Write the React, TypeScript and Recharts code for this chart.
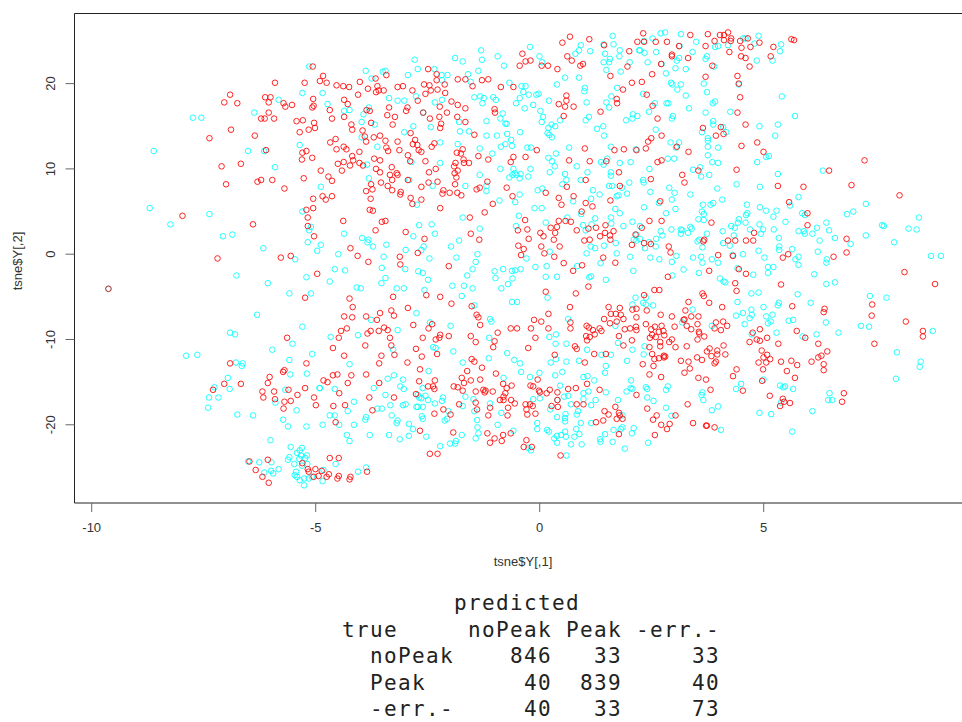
import { ScatterChart, Scatter, XAxis, YAxis, ReferenceLine } from 'recharts';

// values, [tsne$Y[,1], tsne$Y[,2]]
const redTopLeft = [[-5.04,22],[-5.88,20.1],[-5.22,20.1],[-6.88,18.7],[-7.01,17.8],[-6.72,17.7],[-6.1,18.4],[-5.98,18.4],[-6.02,17.8],[-5.69,17.7],[-5.65,17.3],[-5.5,17.5],[-6.02,16.6],[-6.19,15.9],[-6.11,15.9],[-5.9,15.9],[-5.4,15.6],[-5.26,15.7],[-5.01,15.4],[-4.99,14.8],[-5.13,14.6],[-5.33,14.3],[-6.86,14.6],[-6.33,13.9],[-7.34,13.6],[-5.03,18.2],[-5.05,17.2],[-5.02,17.4],[-6.08,12.2],[-5.18,12.1],[-5.27,11.9],[-5.28,11.1],[-5.05,11.3],[-7.07,10.3],[-6.64,10.6],[-6.27,8.5],[-6.19,8.7],[-5.94,8.7],[-6.97,8.2],[-5.24,8.9],[-5.67,7.7],[-5.03,6.5],[-5.18,5.2],[-5.03,5.4],[-5.15,4.3],[-5.15,3.3],[-7.94,4.5],[-6.37,3.5],[-5.01,2.1],[-5.53,-0.2],[-5.75,-0.4],[-7.16,-0.5]];
const cyanTopLeft = [[-5.12,22],[-5.27,18.9],[-5.8,18.1],[-6.34,16.6],[-7.71,16],[-7.52,16],[-5.33,12.8],[-6.48,12.1],[-6.12,12.1],[-8.58,12.1],[-5.88,10.2],[-8.67,5.4],[-7.34,4.7],[-8.21,3.5],[-7.04,2.1],[-6.83,2.3],[-5.27,5],[-5.08,3.2],[-5.12,2.8],[-5.15,1.4],[-6.14,0.7],[-4.94,0.4],[-5.43,-0.6]];
const redBottomLeft = [[-9.59,-4.06],[-4.94,-2.3],[-5.21,-5.1],[-5.61,-9.8],[-5.18,-12.8],[-6.88,-12.8],[-5.67,-13.6],[-5.7,-13.8],[-6,-14.4],[-6.04,-15.1],[-7.01,-15.2],[-6.64,-15.2],[-7.26,-15.9],[-6.16,-16.1],[-5.9,-16.1],[-5.58,-15.9],[-5.21,-15.7],[-6.14,-16.8],[-5.88,-17],[-5.38,-16.5],[-5.01,-16.8],[-5.67,-17.3],[-5.53,-17.2],[-4.97,-17.7],[-5.69,-18.1],[-6.45,-24.3],[-6.04,-24.1],[-6.31,-25.3],[-6.16,-26.1],[-6.02,-26.8],[-5.27,-24.5],[-5.15,-25.2],[-4.98,-25.2],[-4.91,-26],[-5.13,-25.5],[-5.02,-26.1]];
const cyanBottomLeft = [[-9.59,-4.06],[-6.74,-2.5],[-6.04,-3.4],[-5.18,-2.7],[-5.56,-4.6],[-5.08,-4.6],[-6.28,-7.1],[-5.27,-8.5],[-6.88,-9.2],[-6.77,-9.4],[-5.49,-10.5],[-5.94,-11.2],[-5.05,-11.7],[-7.86,-11.9],[-7.61,-11.8],[-5.56,-12.4],[-6.75,-12.7],[-6.6,-12.8],[-6.62,-13.1],[-5.54,-14.1],[-5.17,-14],[-6.93,-14.5],[-7.23,-15.6],[-6.89,-15.8],[-5.65,-15.9],[-4.89,-15.7],[-7.35,-16.8],[-7.14,-16.8],[-5.87,-17.4],[-5.4,-18.3],[-7.37,-18],[-6.72,-18.8],[-6.37,-18.9],[-5.7,-19.4],[-5.59,-20.2],[-5.18,-20.2],[-5.98,-21.8],[-5.53,-22.6],[-5.28,-22.7],[-5.33,-23],[-5.39,-23.3],[-5.3,-23.6],[-5.17,-23.6],[-5.56,-23.8],[-5.59,-24.1],[-5.34,-24],[-5.21,-23.9],[-6.48,-24.3],[-6.23,-24.4],[-5.96,-24.4],[-5.45,-24.6],[-5.16,-24.6],[-5.28,-24.8],[-5.8,-25.2],[-5.97,-25.4],[-6.12,-25.6],[-5.92,-25.7],[-5.41,-25.5],[-5.44,-25.9],[-5.39,-26.1],[-5.33,-26.5],[-5.23,-26.3],[-5.13,-26.3],[-5.06,-26.1],[-5.23,-27.1]];
const redTopMiddle = [[-4.81,20.9],[-4.88,20.3],[-4.73,20.1],[-4.51,19.8],[-4.36,19.7],[-4.23,19.6],[-3.99,20.2],[-3.64,20.6],[-3.4,21],[-3.81,19.4],[-3.6,19.7],[-3.57,19.2],[-3.46,19.2],[-3.63,19],[-4.03,18.7],[-3.15,19.6],[-3.03,19.7],[-2.82,19.2],[-2.56,19.9],[-2.44,19.8],[-2.41,19.2],[-2.53,18.8],[-2.26,19.3],[-2.1,19.9],[-2.09,18.9],[-2.7,18],[-2.47,21.7],[-2.28,21.1],[-2.28,20.4],[-1.81,20.5],[-1.64,20.5],[-1.48,19.7],[-1.27,20.4],[-1.13,20.5],[-0.85,19.6],[-0.57,19.6],[-0.37,23.5],[-0.43,22.1],[-0.3,22.6],[-0.19,22.7],[0.06,22.1],[0.2,22.1],[0.41,21.7],[0.52,24.8],[0.69,25.5],[1.12,25.2],[0.63,23.2],[0.73,22.7],[0.92,22.1],[0.98,22.3],[1.45,24.5],[1.59,20.9],[2.01,23.8],[1.97,22],[2.19,24.9],[2.07,20.1],[1.87,19.3],[1.73,18.2],[1.74,17.7],[1.37,16.7],[0.61,18.6],[0.61,18],[0.44,17.6],[0.58,17.3],[0.77,17.3],[0.55,16.2],[-0.99,17],[-0.98,16.6],[-1.95,17.9],[-1.81,17.5],[-1.64,17.1],[-2.05,16.6],[-2.21,17.3],[-2.43,15.9],[-2.22,16.1],[-2.18,15.3],[-2.2,14.8],[-1.82,16.1],[-1.64,15.5],[-1.44,14],[-4.34,18.1],[-4.26,17.6],[-4.66,16.9],[-4.61,15.9],[-4.34,16.1],[-3.34,17.2],[-2.93,17.2],[-2.96,16.8],[-3.38,16.3],[-3.21,16.1],[-3.26,15.2],[-2.58,16.6],[-3.84,16.9],[-3.77,16.8],[-4.18,15.2],[-4.16,14.6],[-3.93,14.5],[-3.74,15.4],[-3.88,13.8],[-3.85,13.2],[-3.68,13.7],[-3.54,13.9],[-3.42,13.3],[-3.15,13.2],[-2.86,14.2],[-2.76,13.4],[-2.81,12.9],[-2.71,12.8],[-2.33,13],[-2.39,12.6],[-2.68,12.2],[-2.62,12],[-3.4,12.5],[-3.36,12.1],[-3.11,12.2],[-4.53,13.5],[-4.65,13.1],[-4.35,12.6],[-4.29,12.3],[-4.51,12.3],[-4,12],[-4.16,11.5],[-4.14,11],[-4.35,10.8],[-4.48,10.6],[-4.21,10.4],[-4,10.7],[-3.92,10.4],[-3.67,11.2],[-3.54,11],[-3.63,10],[-3.54,9.6],[-3.28,10.2],[-2.92,11.6],[-2.87,10.9],[-2.53,10.9],[-2.45,9.6],[-2.3,10],[-3.32,9.3],[-3.17,9.5],[-3.15,9.3],[-3.27,8.7],[-3.52,8.4],[-3.37,8],[-3.27,7.5],[-3.74,8.2],[-3.71,7.6],[-3.85,7.4],[-3.75,6.5],[-3.08,7.3],[-3.09,7],[-2.92,8.7],[-2.62,7.9],[-2.46,8.4],[-2.26,8.5],[-2.86,6.6],[-2.62,6.4],[-2.82,5.9],[-2.2,5.4],[-3.77,5.2],[-3.7,5.1],[-4.39,9.8],[-4.69,9.1],[-4.61,8.6],[-4.86,9.8],[-4.82,6.8],[-4.75,6.4],[-4.61,6.8],[-1.7,12.3],[-1.83,11.9],[-1.74,11.8],[-1.68,11.1],[-1.56,10.7],[-1.67,10.7],[-1.86,10.7],[-1.89,10.3],[-1.81,9.8],[-1.88,9.5],[-1.84,9],[-1.87,8.2],[-2.13,7.5],[-2.15,7.1],[-1.99,7.2],[-1.82,7.2],[-1.73,6.9],[-1.35,11.5],[-1.13,11.1],[-1.15,8.5],[-1.39,7.6],[-1.32,7.8],[-0.72,7.8],[-0.57,11.4],[-0.63,10.8],[-0.3,11.4],[-0.05,12.2],[-0.59,6.8],[-1.03,5.9],[-1.21,4.9],[0.15,7.2],[0.67,11],[1.02,12.4],[1.13,10.9],[1.68,12.2],[1.89,12.3],[2.17,12.2],[1.5,10.9],[1.78,9.6],[1.04,8.7],[0.62,7.9],[1.8,8],[0.77,6.8],[0.44,6.6],[0.5,5.8],[1.04,6],[1.19,5.6],[1.59,6.3],[0.95,5],[-4.36,3.9],[-3.5,3.8],[-3.42,3.9],[-3.64,2.8],[-2.97,2.6],[-2.55,1.8],[-1.54,4.3],[-1.52,2.4],[-1.33,1.7],[-4.2,0.7],[-4.04,-0.2],[-3.1,-0.3],[-2.7,0.15],[-0.31,4],[-0.47,2.8],[-0.26,2.9],[0.03,2.5],[0.1,2.1],[-0.23,1.8],[-0.46,1],[-0.34,0.6],[-0.4,-0.1],[0.05,0.9],[0.33,1.7],[0.46,0.9],[0.12,0.1],[0.34,-0.3],[0.26,3.1],[0.4,3.2],[0.36,2.5],[0.44,3.9],[0.59,3.9],[0.71,3.8],[0.84,2.8],[1.1,3],[1.27,3.1],[1.48,3.4],[1.47,2.5],[1.66,2.7],[1.36,2.1],[1.58,2.2],[1.59,1.7],[1.01,1.6],[1.13,1.7],[2.07,1.1],[2.15,2.3],[1.43,-0.4]];
const cyanTopMiddle = [[-2.77,22.8],[-2.7,21.7],[-2.92,21],[-3.86,21.5],[-3.48,21.4],[-3.42,21.5],[-3.73,20.6],[-2.33,21.7],[-2.17,21],[-2.04,21],[-2.16,20.4],[-1.87,23],[-1.7,22.6],[-1.29,23.9],[-1.27,22.8],[-0.92,23.2],[-0.78,22.1],[-1.58,21.1],[-1.35,21.5],[-1.52,20.2],[-0.2,24.3],[0.01,23.2],[0.07,22.5],[-0.66,20.1],[-0.39,19.7],[-0.3,19.7],[-0.35,19],[-0.43,18.3],[-0.51,17.7],[-0.23,18.7],[-0.06,18.7],[-0.01,18.8],[-0.13,17.5],[-0.32,17.1],[-1.44,18.4],[-1.31,18.5],[-1.23,18.3],[-1.26,17.7],[-1.02,18.4],[-0.96,18.1],[-0.81,16.5],[-0.86,15.9],[-0.75,15.3],[-0.72,15.3],[-1.17,15.6],[-3.34,18.3],[-3.15,18],[-3,18],[-2.74,18.5],[-2.32,17.8],[-2.16,18.1],[-2.58,16.6],[-4.82,18.9],[-4.71,17.6],[-4.34,16.8],[-4.22,16.9],[-3.91,16.4],[-3.79,17.2],[-3.66,15.2],[-3.95,15.5],[-3.95,13.7],[-3.6,12.6],[-3,14.3],[-2.8,15],[-2.41,14.9],[-2.2,13.1],[-1.81,12.9],[-1.76,14.4],[-1.78,15.5],[-1.56,14.4],[-1.17,13.9],[-0.94,13.9],[-0.71,14.1],[-0.42,14.3],[-0.62,13.4],[-0.75,12.9],[-0.6,12.7],[-0.85,12.6],[-1.32,12.4],[-1.04,11.8],[-0.26,12.5],[-0.18,12.5],[0.03,16.8],[0.09,16.1],[0.06,15.5],[0.21,14.8],[0.28,15.2],[0.36,15],[0.19,14.2],[0.23,14],[0.29,13.7],[0.47,15.7],[0.22,18],[0.4,19.9],[0.58,20.7],[0.89,20.7],[1.02,19.5],[1.01,19.1],[1.06,17.8],[0.81,23.5],[0.89,23.9],[0.93,24.5],[1.14,23.8],[1.44,24.6],[1.64,25.6],[1.66,24.6],[1.47,23.5],[1.44,22.5],[1.58,22.9],[1.56,22.5],[1.5,21.6],[1.8,23.9],[1.79,23.2],[1.82,21.4],[2.02,22.5],[2.23,23.9],[1.74,19.5],[1.61,18.5],[1.5,17.8],[1.56,17.2],[1.04,15.7],[1.11,16.1],[1.29,14.7],[1.43,15],[1.45,13.9],[1.94,15.7],[2.08,15.9],[2.09,16.4],[2.19,16.2],[0.67,12.5],[0.21,11.3],[0.38,11.8],[0.29,10.9],[0.35,10.3],[0.24,9.6],[-0.19,10],[-0.86,10],[-0.57,10],[-0.54,9.5],[-0.59,9.3],[-0.41,9.4],[-0.5,9.3],[-0.43,8.9],[-0.66,9],[-0.24,9.1],[-1.32,9.3],[-1.64,8],[-2.37,8],[-2.89,8.7],[-3.79,8.9],[-3.83,10.5],[-2.84,10.8],[-2.2,10.7],[-4.86,7.9],[-1.17,8],[-1.17,7.4],[0.58,9.4],[0.61,8.7],[0.52,8.2],[0.93,8.7],[1.08,9.6],[0.84,10.3],[1.38,10.8],[1.44,10.5],[1.52,11.2],[1.8,10.7],[2.04,10.8],[1.6,12.6],[2.16,12.3],[1.6,9.6],[1.6,9.2],[1.56,8],[1.63,8],[2.01,8.4],[1.85,7.8],[1.96,7.1],[1.77,6.9],[1.73,6.8],[1.2,7.5],[1.35,7],[1.16,6.5],[0.76,6.2],[-0.43,7],[-0.53,6.1],[-0.88,6.3],[-0.03,7.5],[0.07,7.7],[-0.1,5.4],[0.06,5.4],[-2.72,5.8],[-1.7,4.3],[-1.32,3],[-2.32,2.4],[-2.39,3.5],[-2.67,3.4],[-2.8,2.1],[-1.78,1.6],[-1.96,0.9],[-3.94,1.9],[-3.8,1.7],[-3.82,1.4],[-4.34,2.4],[-3.4,1.1],[-3.7,0.9],[-4.47,0],[-4.86,1.1],[-2.97,0.5],[-2.57,0.9],[-2.62,0.5],[-3.46,-0.3],[-1.37,0],[-1.84,-0.4],[-2.44,-0.5],[-0.45,4.5],[-0.51,3.3],[0.15,3.7],[0.63,4.3],[0.94,4.7],[1.25,4.2],[1.17,3.5],[0.98,3.4],[1.04,2.8],[1.6,4.3],[1.61,3.6],[1.88,3.3],[2.08,3.8],[1.7,5.3],[1.8,4.8],[1.71,1.3],[2.17,2.3],[2.11,1.7],[2.17,1.6],[1.15,0.9],[1.25,0.7],[1.45,1],[1.06,0.1],[1.73,0.1],[2.03,-0.3],[0.24,0.3],[-0.28,-0.5]];
const redTopRight = [[2.32,25.9],[2.34,24.9],[2.6,24.9],[2.85,24.9],[3.12,24.4],[3.37,25.7],[3.76,25.8],[3.71,24.4],[3.91,25],[4.03,25.7],[4.12,25.7],[4.21,26],[4.12,25.1],[4.28,25.3],[4.27,25],[4.48,25],[4.65,25.3],[4.91,24.8],[4.71,24.3],[4.51,24.2],[4.24,23.7],[5.22,24.3],[5.62,25.2],[5.68,25.1],[5.16,23.2],[4.5,23.2],[4.6,23],[4.69,22],[3.86,22.1],[2.96,23.4],[2.96,23.2],[3.32,23],[2.72,22.3],[2.52,21.1],[2.29,20.2],[3.71,20.8],[4.42,20.9],[4.45,20],[2.4,18.7],[4.48,18.4],[2.53,17.4],[4.42,16.6],[2.64,15.9],[3.65,14.8],[4.05,14.9],[4.11,14.1],[3.94,13.9],[4.6,15.2],[2.73,13.9],[2.5,13.6],[2.43,13.2],[2.38,12.4],[3.07,12.6],[3.33,12],[4.51,12.7],[4.86,13.1],[5,12],[2.64,10.8],[2.73,11],[3.55,9.8],[3.19,9.3],[3.24,8.4],[2.49,8.8],[4.4,9.9],[7.25,11],[6.46,9.8],[6.96,8.1],[8.03,6.9],[5.32,8],[5.89,7.9],[5.57,6.1],[2.7,6.2],[5.98,4.8],[2.46,3.9],[2.73,3.9],[2.29,3.1],[3.84,3.7],[5.98,3.4],[4.79,2.5],[3.68,1.7],[3.66,1.5],[4.21,1.6],[4.37,1.6],[4.61,1.6],[4.77,1.6],[2.34,1.3],[2.49,1.2],[6.85,1.8],[2.89,0.9],[2.93,0.2],[3.99,-0.1],[4.32,-0.2],[5.55,0],[5.43,-0.4],[6.56,-0.3],[6.85,0.2]];
const cyanTopRight = [[2.71,25.9],[2.81,26],[2.53,25.3],[2.34,25],[3.16,25.8],[3.5,24.9],[3.13,24.4],[2.25,23.9],[2.35,23.6],[2.61,23.7],[3.42,23.7],[3.12,23],[3.07,22.7],[3.74,23.2],[3.71,22.9],[3.92,24.3],[3.99,24.4],[4.21,24.5],[4.55,25.3],[4.6,25.3],[4.89,25.6],[4.8,24.7],[5.39,24.6],[5.37,23.8],[5.2,22.7],[4.85,22.7],[3.9,22],[2.42,22.5],[2.73,22.3],[3.04,21.8],[3.27,21.7],[2.83,21.2],[2.94,20.1],[2.97,19.9],[3.16,19.9],[3.08,19.3],[3.67,20],[4.45,19.9],[3.74,19],[3.27,18.6],[2.32,18.8],[5.41,18.5],[3.87,17.7],[3.92,17.9],[2.84,17.7],[2.88,17.7],[2.58,17.7],[3.34,17.1],[2.45,16.7],[3.71,16.6],[4.26,16.7],[5.7,16.2],[2.98,16.2],[2.96,15.9],[3.88,15.6],[3.88,15.2],[2.6,14.6],[3.63,14.3],[4.1,14.9],[4.17,14.3],[4.91,15],[5.32,15.2],[5.26,13.9],[3.76,13.6],[3.76,13.3],[2.93,13.1],[3.12,13.1],[3.05,12.5],[3.76,12.6],[3.99,12.5],[3.76,11.6],[2.87,11.2],[3.01,11.2],[5.06,11.4],[5.12,11.5],[3.86,10.8],[3.99,10.7],[4.86,10.8],[2.46,10],[3.59,10.2],[3.43,9.9],[3.61,9.1],[3.79,9.3],[5.32,9.4],[6.32,9.8],[2.32,8.7],[2.33,8.4],[4.4,8.2],[4.92,7.9],[3.97,7.7],[2.9,7.8],[3.02,7.2],[2.48,7.3],[3.37,7],[2.96,6.4],[4.08,6.4],[5.78,6.7],[2.67,6],[2.34,5.5],[3.04,5.3],[2.83,4.8],[3.65,5.8],[3.82,5.8],[3.88,6],[4.63,5.8],[5.59,5.7],[7.28,5.9],[4.92,5.5],[5.06,5.1],[5.29,5.1],[3.63,5],[3.67,4.7],[4.64,4.8],[4.61,4.6],[5.22,4.4],[5.86,4.8],[5.92,4.6],[6.86,4.7],[7,5],[3.55,4.1],[3.67,4],[4.45,4.1],[4.43,3.7],[4.6,3.7],[5.49,3.8],[6.4,3.7],[8.46,4.3],[7.64,3.4],[7.68,3.3],[8.23,3],[8.41,2.9],[2.25,3.3],[4.28,3.3],[4.36,3.1],[4.7,2.9],[4.91,3.5],[4.99,2.9],[4.94,2.4],[5.23,2.9],[6.19,3.1],[6.46,2.8],[5.78,2.7],[5.9,2.7],[5.92,2.4],[6.09,2.4],[2.71,2.7],[2.75,2.2],[3.16,2.9],[3.19,2.8],[3.16,2.4],[3.37,3.2],[3.4,3],[3.32,2.5],[2.95,2.9],[3.74,2.4],[4.09,2.7],[4.34,2.2],[5.34,1.9],[6.59,1.9],[7.28,2.2],[6.25,1.6],[6.94,1.2],[7.91,1.4],[3.53,1.5],[3.57,1.7],[4.1,1.3],[4.25,1],[3.64,0.8],[2.6,0.9],[2.36,0.7],[2.45,1.4],[2.61,1.8],[2.25,1.8],[5.35,0.9],[5.35,0.5],[5.64,0.6],[4.89,0.4],[6.21,0.3],[4.54,0],[3.06,-0.2],[2.48,-0.4],[2.68,-0.6],[3.43,-0.4],[3.61,-0.3],[3.85,-0.6],[4.31,-0.1],[5.02,-0.4],[5.71,-0.6],[5.78,-0.3],[8.73,-0.2],[8.95,-0.2],[6.41,-0.6]];
const redBottomMiddle = [[-3.8,-0.9],[-3.09,-1.2],[-2.01,-1.4],[-4.22,-5.2],[-4.15,-6.2],[-4.34,-7.3],[-4.16,-7.4],[-3.85,-7.3],[-3.54,-6.9],[-3.61,-7.7],[-3.29,-6.6],[-3.23,-7.2],[-3.25,-5],[-2.92,-6.3],[-2.51,-4.8],[-2.2,-5],[-1.95,-5.8],[-2.8,-8.3],[-2.38,-8.2],[-2.46,-8.7],[-3.45,-8.6],[-3.37,-8.9],[-3.57,-9],[-3.75,-9],[-3.82,-9.3],[-4.28,-8.7],[-4.41,-9],[-4.46,-9.8],[-4.59,-11],[-3.87,-10.7],[-3.32,-9.8],[-3.29,-10.7],[-3.22,-11.8],[-3.51,-11.9],[-3.56,-12.8],[-4.34,-11.9],[-2.74,-11.1],[-2.93,-12.7],[-2.61,-12],[-2.59,-9.8],[-2.3,-10],[-2.22,-9.8],[-2.2,-9.45],[-2.01,-9.6],[-2.27,-11.7],[-2.65,-13.5],[-3.85,-14.1],[-4.18,-14.2],[-4.59,-14.2],[-4.49,-14.1],[-4.8,-14.8],[-4.71,-15],[-4.26,-15.1],[-3.56,-15.1],[-4.45,-16.3],[-3.78,-16.8],[-3.23,-16.8],[-4.58,-17.8],[-4.32,-17.7],[-3.71,-18.3],[-4.53,-19.7],[-2.67,-14.9],[-2.32,-14.8],[-2.47,-15.5],[-2.36,-15.5],[-2.33,-15.8],[-2.74,-16.4],[-2.13,-18.2],[-1.97,-18.8],[-2.33,-18.7],[-1.78,-17.6],[-2.65,-20.7],[-1.91,-20.9],[-2.43,-23.4],[-2.26,-23.4],[-4.66,-23.9],[-4.46,-23.9],[-3.83,-25.5],[-4.84,-25.4],[-4.68,-25.8],[-4.73,-26.1],[-4.46,-26],[-4.49,-26.3],[-4.2,-26.1],[-4.22,-26.4],[-1.5,-6.1],[-1.39,-7.1],[-1.35,-7.4],[-1.31,-8.3],[-0.92,-9.2],[-0.63,-8.7],[-0.49,-8.7],[-0.18,-8.7],[-0.11,-7.7],[0.05,-7.9],[0.21,-7],[0.21,-8.7],[-0.08,-9.8],[-1.52,-9.6],[-1.41,-10.3],[-0.99,-10.2],[-1.02,-10.9],[-0.24,-11],[-1.5,-12.3],[-1.44,-12.6],[-1.27,-13.3],[-1.6,-13.7],[-0.96,-14],[-1.72,-14.5],[-1.52,-14.8],[-1.67,-15.1],[-1.31,-14.7],[-1.9,-15.5],[-1.81,-15.6],[-1.7,-16],[-1.41,-16.1],[-1.24,-15.9],[-1.21,-16.2],[-1.19,-16],[-1.03,-16.1],[-0.8,-15.2],[-0.72,-15.7],[-0.61,-15.4],[-0.75,-16.3],[-0.79,-16.7],[-0.87,-17.1],[-0.79,-17.1],[-0.62,-17.1],[-0.54,-17.5],[-0.69,-18],[-1.41,-17.4],[-1.38,-18.2],[-1.09,-18],[-1.13,-18.9],[-0.7,-18.9],[-1.15,-21],[-0.99,-21.6],[-1.09,-22.1],[-0.8,-21.2],[-0.83,-21.9],[-0.63,-21],[-0.28,-21.8],[-0.34,-22.6],[-0.16,-22.6],[0.48,-23.6],[-0.3,-17.6],[-0.2,-17.6],[-0.14,-17.8],[-0.28,-18.2],[-0.26,-18.8],[-0.08,-18.7],[-0.03,-14.7],[-0.19,-15.4],[-0.13,-15.5],[0,-16],[0.02,-16.2],[0.17,-16.3],[0.24,-15.9],[0.41,-16.2],[0.41,-17.1],[0.28,-17.8],[0.42,-17.9],[0.65,-15.8],[0.82,-15.7],[0.84,-17.6],[0.99,-17.6],[1.07,-15.2],[1.35,-15.9],[1.7,-17.9],[1.46,-18.4],[1.55,-18.8],[1.43,-19.5],[1.27,-19.7],[1.78,-18.6],[1.8,-18.9],[1.73,-19.3],[1.86,-19.3],[1.78,-21.1],[2.17,-16.5],[0.35,-11.8],[1.02,-12.7],[0.8,-10.8],[0.84,-11.1],[1.23,-11.7],[1.49,-11.7],[1.06,-8.4],[1.11,-8.6],[1.2,-8.9],[1.24,-9.4],[1.35,-8.7],[1.39,-9],[1.05,-9.6],[1.13,-9.7],[1.07,-10.1],[1.45,-7.6],[1.58,-8.1],[1.6,-7],[1.71,-7],[1.82,-7.1],[1.88,-7.6],[1.73,-7.9],[1.55,-6.2],[1.8,-6.3],[2.08,-6.5],[2.17,-6.4],[2.17,-7.4],[1.91,-8.8],[2.03,-8.7],[2.16,-8.5],[2.17,-8.9],[1.78,-9.6],[2.07,-10.1],[1.88,-10.7],[0.69,-6.2],[0.7,-8],[0.7,-8.7],[0.82,-4.6],[0.15,-4.4],[0.76,-1.95],[0.96,-1.3],[0.55,-1.05],[1.1,-3.8],[1.7,-1]];
const cyanBottomMiddle = [[-4.55,-1.75],[-4.32,-1.9],[-4.66,-3.2],[-4.06,-3.9],[-3.97,-4],[-3.51,-3.4],[-3.42,-2.8],[-3.5,-1.6],[-2.98,-1.75],[-2.69,-2],[-2.59,-2.2],[-2.47,-3],[-3.17,-4],[-3.01,-4],[-2.55,-4.2],[-1.93,-3.7],[-1.67,-3.7],[-1.48,-4],[-1.72,-4.9],[-1.6,-2.5],[-1.48,-1.75],[-1.41,-0.9],[-0.99,-2],[-0.97,-2.8],[-0.8,-1.75],[-0.6,-1.95],[-0.53,-1.9],[-0.41,-1.75],[-0.59,-2.85],[-0.69,-3.5],[-0.84,-4],[-0.08,-1.5],[0.17,-1.4],[0.15,-2.65],[0.4,-2.65],[0.85,-1.4],[1.12,-2.7],[1.16,-2.6],[1.49,-3],[1.37,-1.05],[2.1,-1.95],[0.19,-5.1],[2.15,-5.1],[2.08,-5.9],[-0.6,-5.6],[-0.49,-5.6],[-1.44,-6],[-2.73,-6.9],[-3.74,-7.7],[-1.09,-7.6],[-1.06,-7.9],[-2.43,-8],[-1.97,-8.4],[-3.15,-8.9],[-4.03,-9.5],[-4.64,-9.7],[-1.11,-9.8],[-2.36,-10.9],[-2.3,-11],[-3.25,-11.2],[-1.91,-11.4],[-4.22,-12.9],[-0.71,-11.6],[-1.12,-12.2],[-1.7,-12.7],[-0.55,-12.4],[-0.42,-12.8],[-0.4,-13.8],[-2.46,-13.7],[-3.23,-14.2],[-3.37,-14.6],[-3.03,-14.7],[-0.79,-14.5],[-0.2,-14.4],[0.01,-13.9],[0.36,-14.2],[0.52,-13.8],[0.26,-12.7],[0.38,-12.3],[0.61,-12.6],[0.89,-12.5],[1.07,-11.2],[1.39,-11.8],[1.6,-11.8],[1.96,-12.5],[2.08,-11.2],[1.76,-10.4],[1.7,-8.4],[0.61,-10.5],[0.37,-10.5],[0.23,-9.7],[0.38,-9.4],[0.65,-7.6],[1.49,-13.1],[1.47,-13.9],[0.99,-14.4],[1.08,-14.3],[1.23,-14.8],[2.05,-14.8],[-3.68,-15.7],[-4.55,-15.8],[-4.88,-15.7],[-3.09,-15.5],[-3.01,-15.8],[-2.59,-15.7],[-3.42,-16.5],[-2.7,-16.5],[-2.67,-16.8],[-2.53,-16.6],[-2.62,-16.9],[-2.47,-17.1],[-2.32,-17.5],[-2.14,-16.8],[-2.16,-17.2],[-3.31,-17.7],[-4.12,-17.3],[-3.03,-17.7],[-2.97,-17.6],[-3.6,-18.1],[-3.5,-18.1],[-4.26,-18.4],[-2.73,-17.9],[-2.7,-17.9],[-2.59,-17.9],[-1.64,-16.7],[-1.46,-17],[-1.09,-17.5],[-1.7,-17.8],[-1.44,-18.4],[-0.84,-18.6],[-2.02,-18.4],[-4.66,-18.9],[-4.55,-18.9],[-3.85,-19.1],[-3.87,-19.4],[-3.28,-18.9],[-3.15,-19.5],[-3.17,-19.8],[-2.61,-19],[-2.59,-19.3],[-2.05,-19.3],[-2.1,-19.5],[-4.82,-20],[-4.45,-20],[-4.12,-20],[-2.9,-19.9],[-2.81,-20.5],[-1.38,-19.45],[-1.37,-20.3],[-0.92,-20],[-1.35,-21],[-1.41,-21.6],[-4.28,-21.2],[-4.22,-21.9],[-3.77,-21.2],[-3.34,-21.2],[-3.1,-21.7],[-2.9,-21.3],[-2.51,-21.4],[-1.72,-21.2],[-1.85,-21.9],[-1.87,-22.2],[-1.98,-22.2],[-2.2,-22.5],[-4.53,-24.6],[-3.85,-25],[-4.03,-25.5],[-4.8,-25.3],[-4.82,-26.6],[-0.04,-19.8],[-0.04,-20.5],[-0.57,-20.7],[0.18,-20.6],[0.22,-20.8],[0.4,-21.3],[0.49,-21.2],[0.34,-21.6],[0.4,-22.1],[0.58,-20.8],[0.6,-21.4],[0.71,-22.3],[0.79,-21.4],[0.83,-20.5],[0.9,-21.1],[0.95,-22.3],[0.93,-19.8],[0.59,-18.75],[0.58,-19.2],[0.58,-19.6],[0.4,-19.1],[0.25,-18.2],[0.41,-17.1],[0.56,-16.7],[0.65,-16.6],[0.71,-17.6],[0.47,-15.4],[-0.13,-17],[0.02,-16.9],[0.84,-18.8],[0.87,-18.4],[0.99,-16.3],[1.1,-16.1],[0.99,-17],[1.16,-17.7],[1.26,-17.1],[1.49,-16.2],[1.76,-17.1],[1.95,-16.1],[2.04,-15.7],[2.08,-15.8],[1.16,-19.8],[1.47,-21.1],[1.36,-21.7],[1.37,-22],[1.64,-22],[1.66,-20.6],[1.82,-20.5],[1.86,-20.3],[2.07,-21],[2.11,-20.4],[1.91,-22.8],[1.86,-18.9],[0.61,-23.6],[-0.24,-22.7],[-0.18,-23]];
const redBottomRight = [[3.79,-1.95],[4.45,-1.75],[4.61,-2.3],[2.87,-2.65],[4.37,-3.4],[4.4,-4.3],[5.39,-3.55],[8.14,-2.1],[8.82,-3.5],[2.57,-4.2],[2.68,-4.2],[2.34,-4.8],[3.64,-4.6],[3.67,-4.9],[3.79,-5.7],[3.33,-5.6],[4.08,-6.2],[3.26,-6.6],[2.4,-6.6],[5.64,-6.1],[6.36,-6.4],[6.34,-6.8],[7.42,-5.9],[7.41,-7.2],[8.17,-7.9],[8.55,-9],[8.55,-9.65],[7.47,-10.5],[2.71,-7.1],[2.96,-7.3],[3.39,-7.3],[3.55,-7.3],[3.22,-7.7],[3.53,-8.2],[2.38,-8.2],[2.58,-8.5],[2.73,-8.4],[3.02,-8.5],[3.29,-8.4],[3.39,-8.8],[3.94,-8],[4.1,-7.9],[4.19,-8.4],[3.91,-8.7],[4.05,-8.9],[2.5,-8.8],[2.77,-9],[2.67,-9.1],[2.79,-9.5],[2.52,-9.45],[2.47,-9.8],[2.6,-9.7],[3.56,-9.1],[3.57,-9.3],[3.68,-9.65],[3.53,-10],[2.7,-10.3],[2.7,-10.8],[2.9,-10.3],[2.96,-10],[3.04,-10.9],[3.29,-10.8],[2.46,-10.9],[2.52,-11.7],[2.57,-12.3],[2.67,-12.2],[2.78,-11.9],[2.78,-12.1],[2.81,-12],[2.55,-13.1],[2.31,-12.9],[2.46,-14.1],[2.72,-14.4],[3.16,-12.5],[3.33,-12.6],[3.36,-13.4],[3.24,-13.9],[3.55,-14.5],[3.72,-14.7],[3.52,-12.1],[3.63,-12.4],[3.74,-11.4],[3.8,-11.05],[3.84,-11.95],[3.97,-11.3],[3.97,-11.75],[4.15,-11.75],[4.11,-10.7],[3.94,-12.6],[3.91,-12.8],[4.4,-13.5],[4.32,-14.3],[3.82,-15.9],[3.31,-17.6],[4.54,-16],[4.76,-9.2],[4.92,-8.8],[4.69,-10.3],[4.85,-10],[4.92,-10.15],[5.08,-9.8],[5.33,-10.5],[5.74,-9],[5.93,-9.8],[6.22,-10.5],[4.96,-11.3],[5.08,-11.8],[5,-12.1],[5.15,-12.3],[4.89,-12.7],[5.06,-12.7],[4.99,-13.5],[5.39,-12.6],[5.62,-12.5],[5.75,-13],[5.52,-13.7],[5.7,-14.5],[4.97,-14.85],[6.07,-12.6],[6.22,-12.1],[6.29,-11.9],[6.42,-11.4],[6.34,-12.9],[6.34,-13.6],[6.79,-16.3],[6.75,-17.3],[5.14,-16.6],[5.43,-16.95],[5.46,-17.3],[5.59,-17.45],[5.37,-17.8],[3.04,-18.9],[2.62,-18.9],[2.54,-19.4],[2.72,-20],[2.91,-19.9],[2.85,-20.5],[2.58,-21.2],[3.43,-19.8],[3.72,-20.1],[3.74,-20.1],[3.91,-20.3],[2.41,-18.1],[3.24,-7.65]];
const cyanBottomRight = [[2.96,-0.9],[3.22,-1.8],[2.97,-2.5],[3.56,-2.2],[3.64,-1],[3.99,-1],[4.42,-1.65],[5.1,-1.5],[5.22,-1.5],[5.1,-2.2],[4.77,-2.4],[6.13,-2.35],[5.78,-1.25],[6.4,-1],[4.03,-2.85],[4.11,-3.2],[4.15,-3.3],[6.4,-3.5],[6.59,-3.3],[4.73,-4.6],[4.89,-4.5],[5.76,-4.7],[7.37,-4.9],[7.74,-5.1],[2.38,-5.1],[2.32,-5.7],[2.38,-5.9],[2.54,-6],[4.42,-5.6],[5.34,-5.7],[5.32,-6],[6.05,-5.7],[5,-6.2],[3.42,-6.5],[4.73,-6.5],[4.74,-7.1],[4.54,-6.9],[4.39,-7.2],[4.69,-7.5],[5.06,-7.3],[5.2,-7.1],[4.58,-8.2],[5.16,-7.9],[5.1,-8.1],[5.56,-7.8],[5.66,-7.7],[6.39,-8],[3.19,-8],[7.17,-8.4],[7.35,-8.5],[3.85,-8.4],[6.67,-9.2],[8.77,-9],[4.74,-9.4],[5.29,-9.2],[6.18,-9.4],[5.87,-9.65],[2.35,-10.8],[2.33,-11.75],[7.97,-11.5],[8.5,-12.6],[8.48,-13.2],[7.95,-14.6],[5,-14.7],[4.5,-15.2],[4.39,-15.8],[5.37,-15.4],[5.44,-15.6],[5.48,-15.5],[5.66,-15.8],[2.38,-15.6],[2.41,-15.8],[2.83,-15.9],[2.87,-15.5],[3.64,-16.2],[3.62,-16.5],[3.66,-17.1],[2.41,-16.8],[2.55,-17.2],[2.83,-18],[6.47,-16.3],[6.44,-17.1],[6.53,-17.1],[5.39,-17.4],[3.99,-17.85],[3.85,-18.3],[6.09,-18.4],[4.91,-18.6],[5.17,-18.75],[2.95,-18.95],[4.05,-20.6],[5.64,-20.8],[2.43,-22.1]];

const xTicks = [-10, -5, 0, 5];
const yTicks = [-20, -10, 0, 10, 20];
const tableLines = [
    '        predicted',
    'true     noPeak Peak -err.-',
    '  noPeak    846   33     33',
    '  Peak       40  839     40',
    '  -err.-     40   33     73',
];

const redPoints = [...redTopLeft, ...redBottomLeft, ...redTopMiddle, ...redTopRight, ...redBottomMiddle, ...redBottomRight];
const cyanPoints = [...cyanTopLeft, ...cyanBottomLeft, ...cyanTopMiddle, ...cyanTopRight, ...cyanBottomMiddle, ...cyanBottomRight];

// the readings above came out on a slightly wide x scale, this lines them up with the axis
const toRows = (points: number[][]) => points.map(([x, y]) => ({ x: x * 1.0022 - 0.0156, y }));

const ringShape = (color: string) => (props: any) => (
    <circle cx={props.cx} cy={props.cy} r={2.8} fill="none" stroke={color} strokeWidth={1} strokeOpacity={0.85} />
);

const labelFont = { fontFamily: '"Liberation Sans", Arial, sans-serif', fontSize: 13, fill: '#333' };

const XTick = ({ x, payload }: any) => (
    <text x={x} y={532} textAnchor="middle" {...labelFont}>{payload.value}</text>
);

const YTick = ({ y, payload }: any) => (
    <text transform={`translate(55 ${y}) rotate(-90)`} textAnchor="middle" {...labelFont}>{payload.value}</text>
);

export default function App() {
    return (
        <div style={{ position: 'absolute', left: 0, top: 0, width: 962, height: 722, overflow: 'hidden', background: '#fff' }}>
            <ScatterChart width={962} height={722} margin={{ top: 13.5, right: 0, bottom: 159, left: 0 }}>
                <XAxis
                    type="number"
                    dataKey="x"
                    domain={[-10.384, 9.426]}
                    ticks={xTicks}
                    height={60}
                    tickSize={9}
                    stroke="#222"
                    tickLine={{ stroke: '#666' }}
                    tick={<XTick />}
                    allowDataOverflow
                />
                <YAxis
                    type="number"
                    dataKey="y"
                    domain={[-29.17, 28.22]}
                    ticks={yTicks}
                    width={74.5}
                    tickSize={9}
                    stroke="#222"
                    tickLine={{ stroke: '#666' }}
                    tick={<YTick />}
                    allowDataOverflow
                />
                <ReferenceLine y={28.22} stroke="#222" />
                <Scatter data={toRows(cyanPoints)} shape={ringShape('#00ffff')} isAnimationActive={false} />
                <Scatter data={toRows(redPoints)} shape={ringShape('#ff0000')} isAnimationActive={false} />
                <text x={523} y={566} textAnchor="middle" {...labelFont}>tsne$Y[,1]</text>
                <text transform="translate(22 261) rotate(-90)" textAnchor="middle" {...labelFont}>tsne$Y[,2]</text>
            </ScatterChart>
            {tableLines.map((line, i) => (
                <div
                    key={i}
                    style={{
                        position: 'absolute',
                        left: 342,
                        top: 590 + i * 26.5,
                        whiteSpace: 'pre',
                        fontFamily: '"DejaVu Sans Mono", monospace',
                        fontSize: 21,
                        letterSpacing: 1.36,
                        lineHeight: '26px',
                        color: '#222',
                    }}
                >
                    {line}
                </div>
            ))}
        </div>
    );
}
